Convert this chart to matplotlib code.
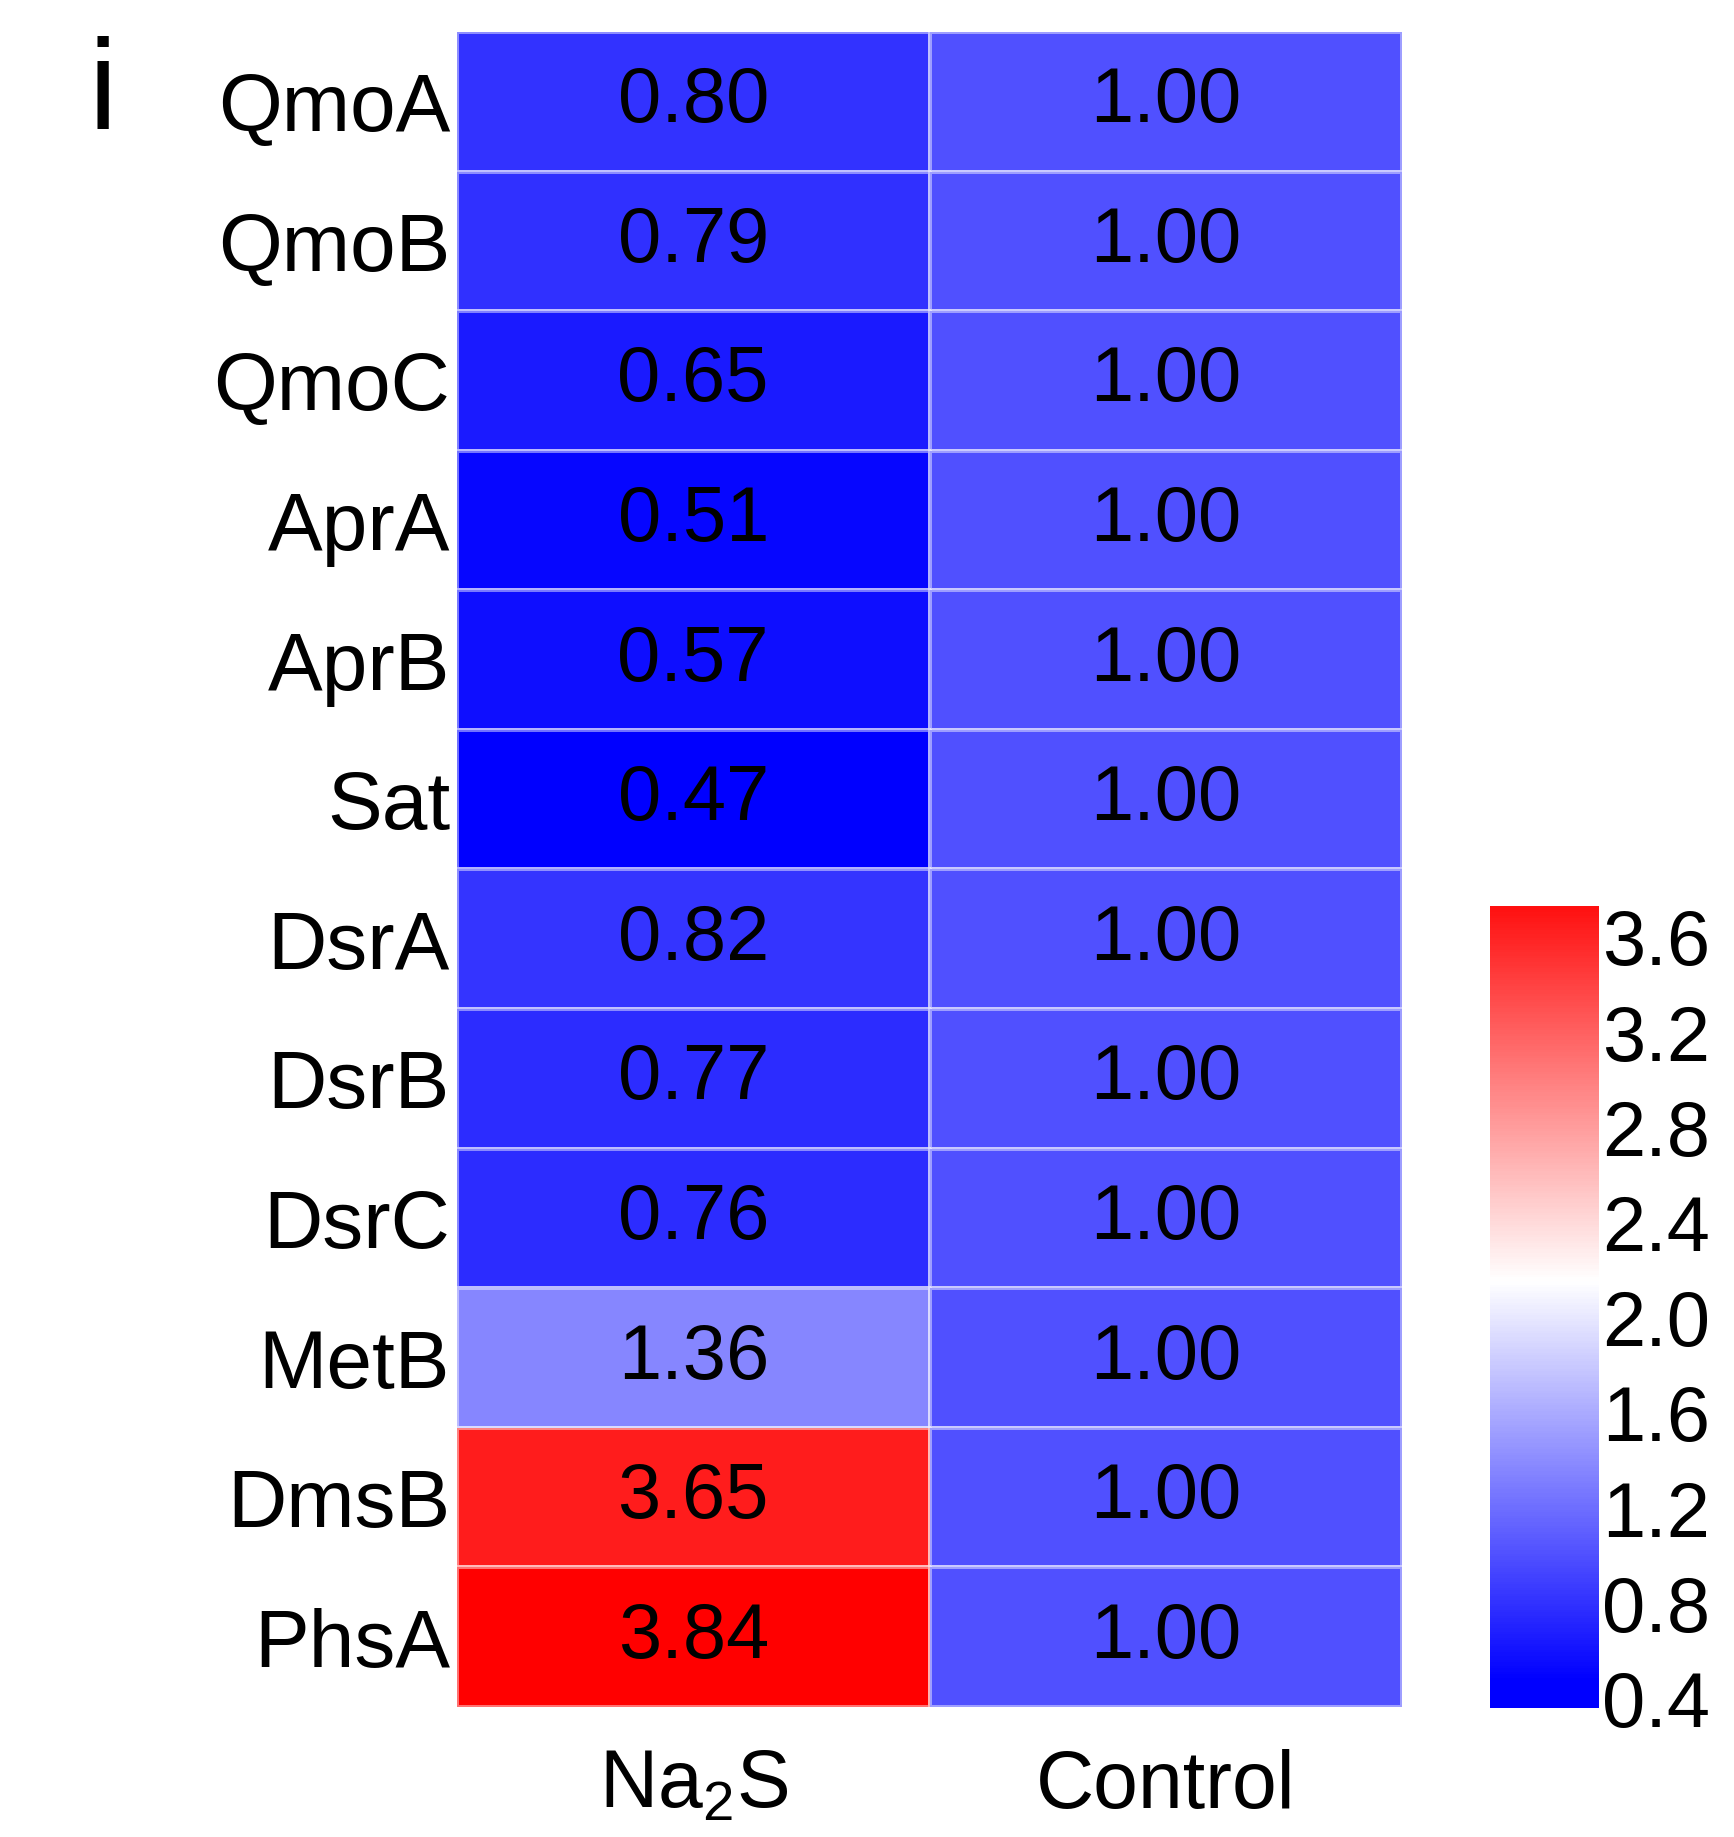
import numpy as np
import matplotlib.pyplot as plt
from matplotlib.colors import LinearSegmentedColormap, Normalize

plt.rcParams['font.family'] = ['Liberation Sans', 'DejaVu Sans']
plt.rcParams['mathtext.fontset'] = 'custom'
plt.rcParams['mathtext.rm'] = 'Liberation Sans'

# --- data -------------------------------------------------------------------
genes = ["QmoA", "QmoB", "QmoC", "AprA", "AprB", "Sat",
         "DsrA", "DsrB", "DsrC", "MetB", "DmsB", "PhsA"]
groups = [r"Na$_{\mathregular{2}}$S", "Control"]
na2s = [0.80, 0.79, 0.65, 0.51, 0.57, 0.47, 0.82, 0.77, 0.76, 1.36, 3.65, 3.84]
control = [1.00] * 12
cbar_ticks = [0.4, 0.8, 1.2, 1.6, 2.0, 2.4, 2.8, 3.2, 3.6]

vals = np.column_stack([na2s, control])
cmap = LinearSegmentedColormap.from_list("bwr_", ["#0000ff", "#ffffff", "#ff0000"])
norm = Normalize(vmin=vals.min(), vmax=vals.max())

W, H = 1734, 1837
fig = plt.figure(figsize=(W / 100, H / 100), dpi=100)

# heatmap
ax = fig.add_axes([457 / W, 1 - 1707 / H, (1402 - 457) / W, (1707 - 32) / H])
ax.pcolormesh(vals, cmap=cmap, norm=norm,
              edgecolors=(1, 1, 1, 0.45), linewidth=1.5)
ax.set_xlim(0, 2)
ax.set_ylim(len(genes), 0)
for i in range(len(genes)):
    for j in range(2):
        ax.text(j + 0.5, i + 0.5, f"{vals[i, j]:.2f}", ha="center", va="center",
                fontsize=56, color="black")
ax.set_yticks(np.arange(len(genes)) + 0.5)
ax.set_yticklabels(genes, fontsize=59)
ax.set_xticks([0.5, 1.5])
ax.set_xticklabels(groups, fontsize=58)
ax.tick_params(length=0, pad=5)
ax.tick_params(axis="x", pad=30)
for s in ax.spines.values():
    s.set_visible(False)

# colorbar drawn as a gradient strip
cax = fig.add_axes([1490 / W, 1 - 1708 / H, 109 / W, 802 / H])
lo, hi = 0.36, 3.73
grad = np.linspace(lo, hi, 400).reshape(-1, 1)
cax.pcolormesh([0, 1], np.linspace(lo, hi, 401), grad, cmap=cmap, norm=norm)
cax.set_ylim(lo, hi)
cax.set_xlim(0, 1)
cax.set_xticks([])
cax.yaxis.tick_right()
cax.set_yticks(cbar_ticks)
cax.set_yticklabels([f"{t:.1f}" for t in cbar_ticks], fontsize=56)
cax.tick_params(axis="y", length=0, pad=2)
for s in cax.spines.values():
    s.set_visible(False)

fig.text(103 / W, 1 - 36 / H, "i", fontsize=92, ha="center", va="top")

fig.savefig("out.png", dpi=100, facecolor="white")
